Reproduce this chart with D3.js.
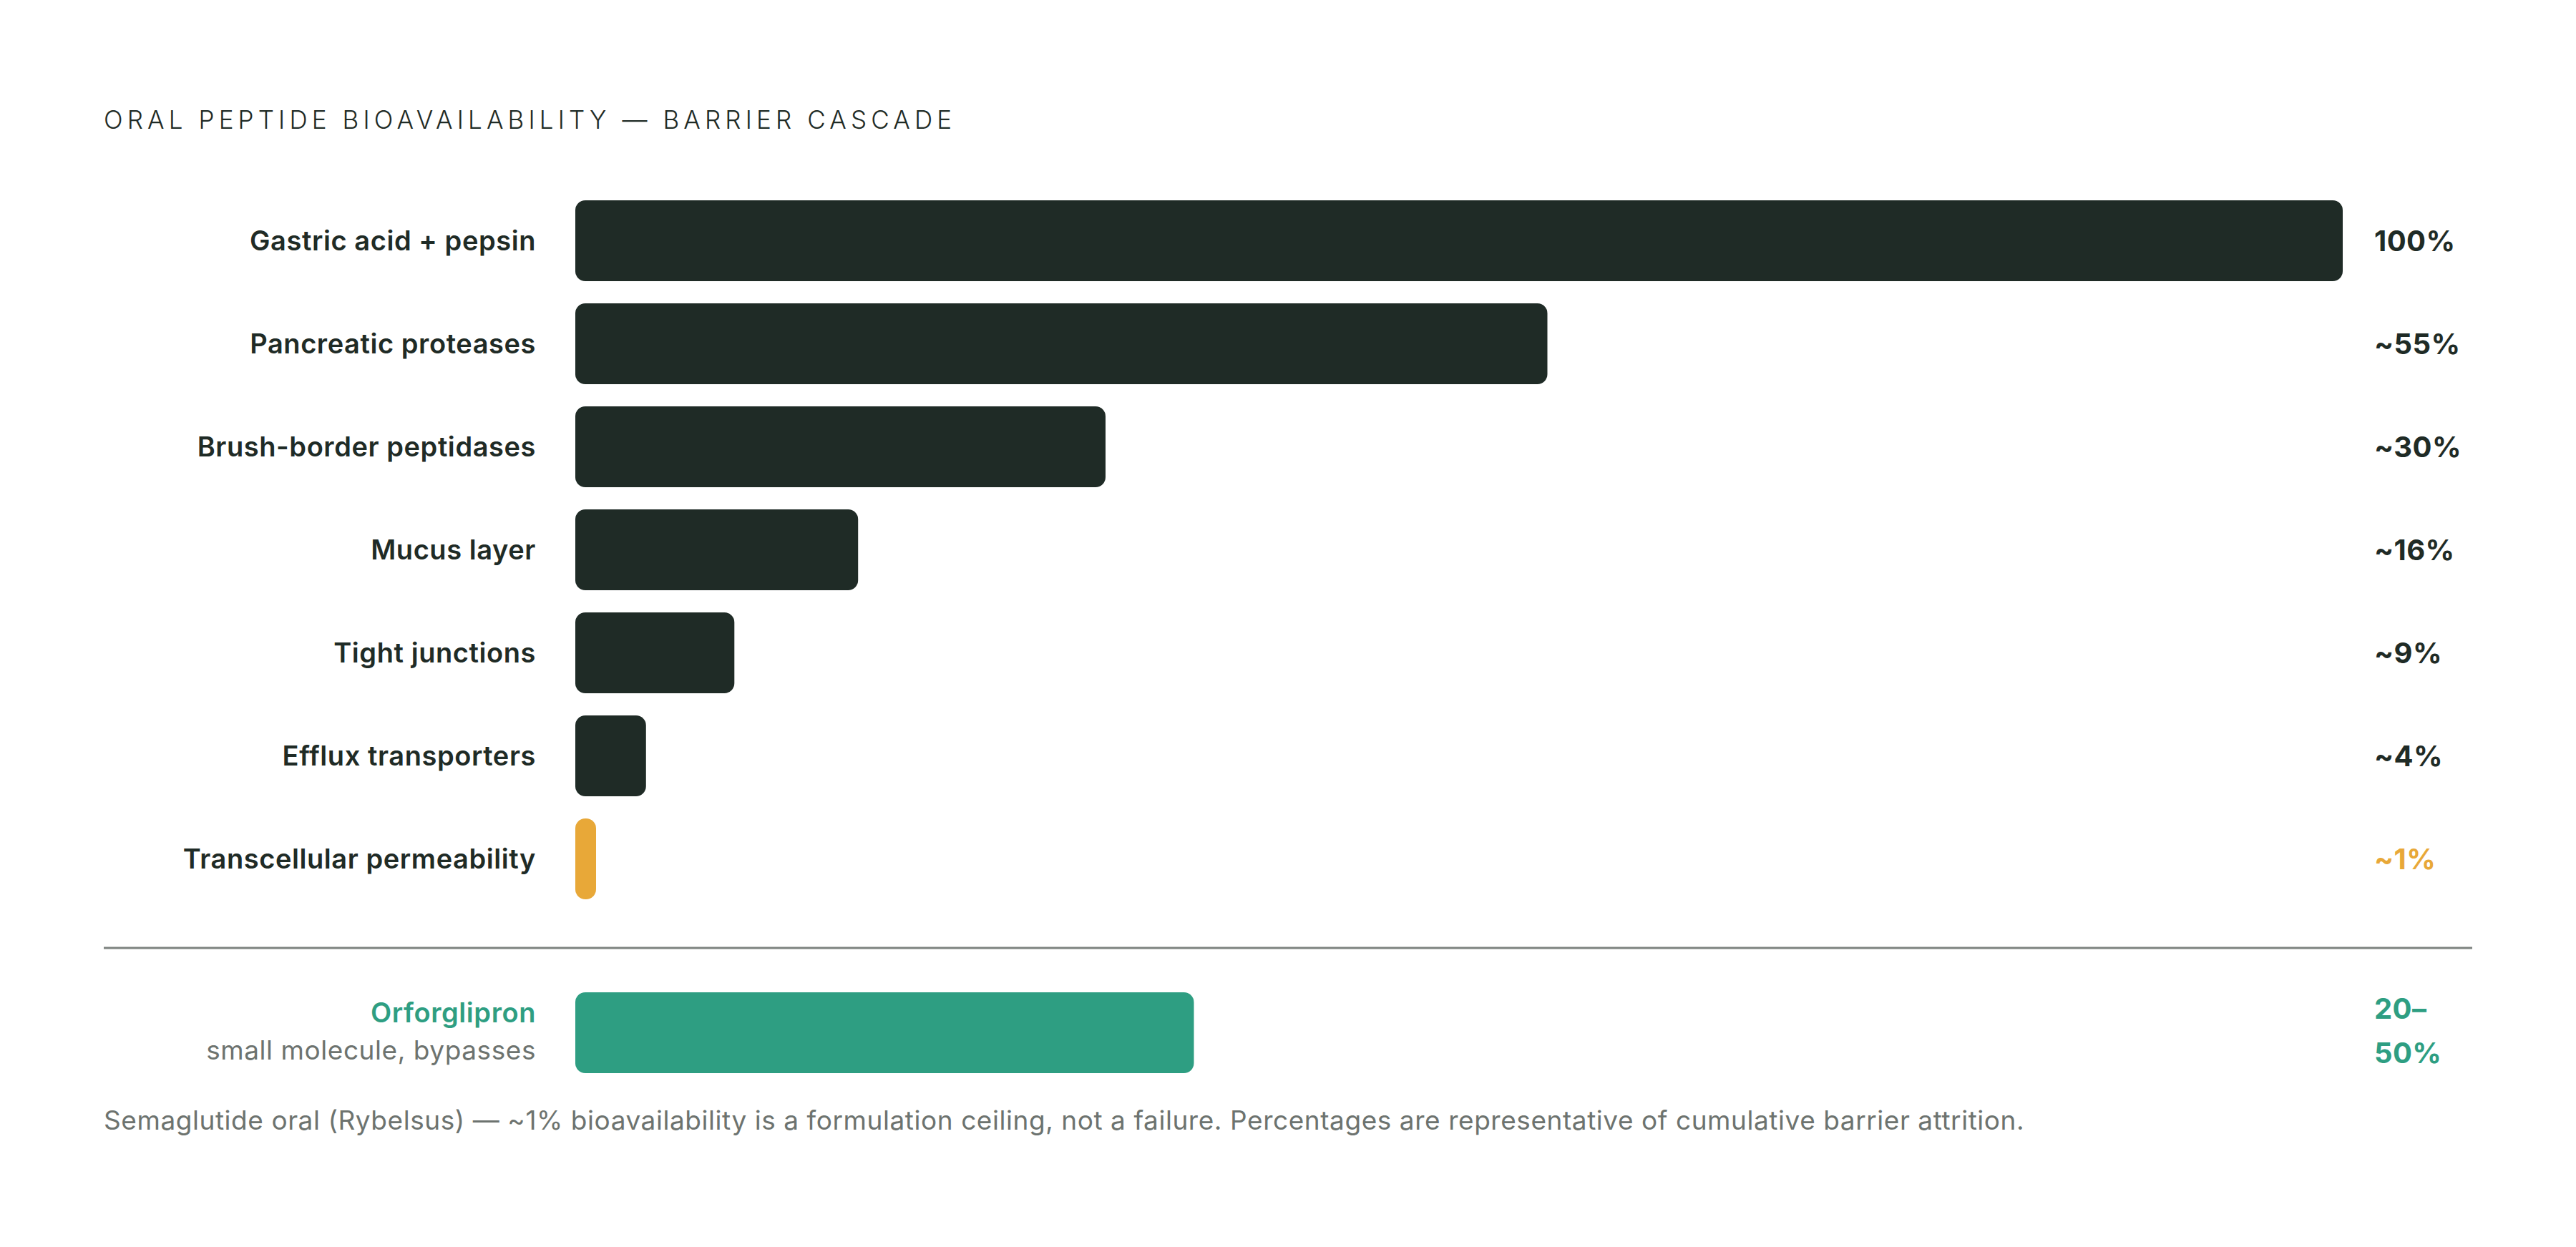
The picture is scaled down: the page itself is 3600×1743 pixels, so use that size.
<!DOCTYPE html>
<html>
<head>
<meta charset="utf-8">
<script src="https://cdn.jsdelivr.net/npm/d3@7"></script>
<style>
  html, body { margin: 0; padding: 0; background: #ffffff; }
  svg { display: block; font-family: Inter, "Noto Sans", sans-serif; }
</style>
</head>
<body>
<div id="chart"></div>
<script>
// barrier cascade data
const barriers = ["Gastric acid + pepsin", "Pancreatic proteases", "Brush-border peptidases",
  "Mucus layer", "Tight junctions", "Efflux transporters", "Transcellular permeability"];
const remaining = [100, 55, 30, 16, 9, 4, 1];
const valueLabels = ["100%", "~55%", "~30%", "~16%", "~9%", "~4%", "~1%"];

// comparison row
const compName = "Orforglipron";
const compSub = "small molecule, bypasses";
const compValue = 35;
const compLabel = ["20–", "50%"];

const title = "ORAL PEPTIDE BIOAVAILABILITY — BARRIER CASCADE";
const footnote = "Semaglutide oral (Rybelsus) — ~1% bioavailability is a formulation ceiling, not a failure. Percentages are representative of cumulative barrier attrition.";

const W = 3600, H = 1743;
const dark = "#1f2b26", orange = "#e8a838", green = "#2e9e82", grey = "#6d736f";

const svg = d3.select("#chart").append("svg")
    .attr("width", W)
    .attr("height", H);

const x = d3.scaleLinear().domain([0, 100]).range([804, 3274]);
const y = d3.scaleBand().domain(barriers).range([264.5, 1272.5])
    .paddingInner(0.215).paddingOuter(0.1075);

const labelX = 749, valueX = 3318;

// title
svg.append("text")
    .attr("x", 145).attr("y", 180)
    .attr("font-size", 35)
    .attr("font-weight", 300)
    .attr("letter-spacing", "0.175em")
    .attr("fill", dark)
    .text(title);

const rows = svg.selectAll(".row")
    .data(barriers.map((b, i) => ({name: b, v: remaining[i], label: valueLabels[i], last: i === barriers.length - 1})))
    .join("g")
    .attr("class", "row");

rows.append("rect")
    .attr("x", x(0))
    .attr("y", d => y(d.name))
    .attr("height", y.bandwidth())
    .attr("width", d => Math.max(x(d.v) - x(0), 29))
    .attr("rx", 14)
    .attr("fill", d => d.last ? orange : dark);

rows.append("text")
    .attr("x", labelX)
    .attr("y", d => y(d.name) + y.bandwidth() / 2)
    .attr("dy", "0.35em")
    .attr("text-anchor", "end")
    .attr("font-size", 38)
    .attr("font-weight", 600)
    .attr("letter-spacing", "0.015em")
    .attr("fill", dark)
    .text(d => d.name);

rows.append("text")
    .attr("x", valueX)
    .attr("y", d => y(d.name) + y.bandwidth() / 2)
    .attr("dy", "0.35em")
    .attr("font-size", 40)
    .attr("font-weight", 700)
    .attr("letter-spacing", "0.01em")
    .attr("fill", d => d.last ? orange : dark)
    .text(d => d.label);

// divider
svg.append("line")
    .attr("x1", 145).attr("x2", 3455)
    .attr("y1", 1325).attr("y2", 1325)
    .attr("stroke", "#7d827f")
    .attr("stroke-width", 3);

// comparison row
const compY = 1387, compH = y.bandwidth();
svg.append("rect")
    .attr("x", x(0))
    .attr("y", compY)
    .attr("height", compH)
    .attr("width", x(compValue) - x(0))
    .attr("rx", 14)
    .attr("fill", green);

svg.append("text")
    .attr("x", labelX).attr("y", 1429)
    .attr("text-anchor", "end")
    .attr("font-size", 38)
    .attr("font-weight", 600)
    .attr("letter-spacing", "0.015em")
    .attr("fill", green)
    .text(compName);

svg.append("text")
    .attr("x", labelX).attr("y", 1481)
    .attr("text-anchor", "end")
    .attr("font-size", 37)
    .attr("font-weight", 400)
    .attr("letter-spacing", "0.015em")
    .attr("fill", grey)
    .text(compSub);

svg.append("g").selectAll("text")
    .data(compLabel)
    .join("text")
    .attr("x", valueX)
    .attr("y", (d, i) => 1424 + i * 62)
    .attr("font-size", 40)
    .attr("font-weight", 700)
    .attr("letter-spacing", "0.01em")
    .attr("fill", green)
    .text(d => d);

// footnote
svg.append("text")
    .attr("x", 145).attr("y", 1579)
    .attr("font-size", 37)
    .attr("font-weight", 400)
    .attr("letter-spacing", "0.015em")
    .attr("fill", grey)
    .text(footnote);
</script>
</body>
</html>
